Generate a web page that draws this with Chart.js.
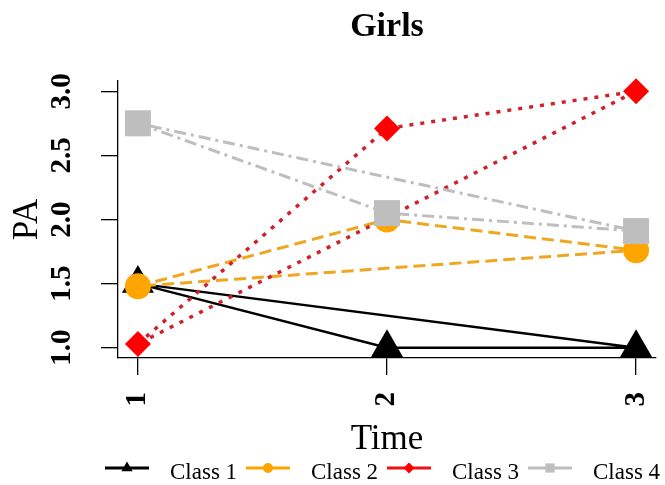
<!DOCTYPE html>
<html>
<head>
<meta charset="utf-8">
<script src="https://cdn.jsdelivr.net/npm/chart.js@4.4.1/dist/chart.umd.min.js"></script>
<style>
  html, body { margin: 0; padding: 0; background: #ffffff; }
  canvas { display: block; }
</style>
</head>
<body>
<canvas id="chart" width="665" height="485"></canvas>
<script>
// Mean PA per latent class at each measurement occasion (girls)
const timePoints = [1, 2, 3];
const classNames = ['Class 1', 'Class 2', 'Class 3', 'Class 4'];
const class1 = [1.50, 1.00, 1.00];
const class2 = [1.48, 2.00, 1.76];
const class3 = [1.03, 2.71, 3.00];
const class4 = [2.75, 2.05, 1.91];
const yTicks = [1.0, 1.5, 2.0, 2.5, 3.0];
const xTicks = [1, 2, 3];

const SERIF = "'Liberation Serif', 'Times New Roman', serif";

// Per-class drawing styles
const styles = [
  { line: '#000000', marker: '#000000', dash: [],            width: 2.5, shape: 'triangle', r: 18.5, keyR: 6.5 },
  { line: '#EFA620', marker: '#FFA500', dash: [12, 6],       width: 3,   shape: 'circle',   r: 13,   keyR: 5 },
  { line: '#D0202A', marker: '#FF0000', dash: [4, 7],        width: 3.5, shape: 'rectRot',  r: 13,   keyR: 5.5 },
  { line: '#BEBEBE', marker: '#BEBEBE', dash: [12, 5, 3, 5], width: 3,   shape: 'rect',     r: 18.4, keyR: 6.5 }
];
const keyLineColors = ['#000000', '#FFA500', '#EE1111', '#BEBEBE'];

const seriesValues = [class1, class2, class3, class4];

// Each class is drawn as a closed triangle: 1 -> 2 -> 3 -> back to 1
const datasets = seriesValues.map((vals, k) => {
  const pts = timePoints.map((t, i) => ({ x: t, y: vals[i] }));
  const st = styles[k];
  return {
    label: classNames[k],
    data: pts.concat([pts[0]]),
    borderColor: st.line,
    borderWidth: st.width,
    borderDash: st.dash,
    backgroundColor: st.marker,
    pointStyle: st.shape,
    pointRadius: [st.r, st.r, st.r, 0],
    pointBackgroundColor: st.marker,
    pointBorderWidth: 0,
    pointHoverRadius: 0,
    tension: 0,
    fill: false,
    clip: false,
    order: seriesValues.length - k
  };
});

// Legend row underneath the axis title
const bottomKey = {
  id: 'bottomKey',
  afterDraw(chart) {
    const ctx = chart.ctx;
    const y = 468;
    const start = 105, stride = 141, segLen = 44, textGap = 65;
    ctx.save();
    chart.data.datasets.forEach((ds, k) => {
      const x0 = start + k * stride;
      ctx.setLineDash([]);
      ctx.strokeStyle = keyLineColors[k];
      ctx.lineWidth = 3;
      ctx.beginPath();
      ctx.moveTo(x0, y);
      ctx.lineTo(x0 + segLen, y);
      ctx.stroke();
      ctx.fillStyle = styles[k].marker;
      Chart.helpers.drawPoint(ctx, {
        pointStyle: styles[k].shape,
        radius: styles[k].keyR,
        rotation: 0,
        borderWidth: 0
      }, x0 + segLen / 2, y);
      ctx.fillStyle = '#000000';
      ctx.font = '23px ' + SERIF;
      ctx.textAlign = 'left';
      ctx.textBaseline = 'alphabetic';
      ctx.fillText(ds.label, x0 + textGap, 479);
    });
    ctx.restore();
  }
};

new Chart(document.getElementById('chart'), {
  type: 'line',
  data: { datasets },
  plugins: [bottomKey],
  options: {
    responsive: false,
    animation: false,
    devicePixelRatio: 1,
    events: [],
    layout: { autoPadding: false, padding: { top: 0, right: 9, bottom: 0, left: 0 } },
    plugins: {
      legend: { display: false },
      tooltip: { enabled: false },
      title: {
        display: true,
        text: 'Girls',
        fullSize: false,
        color: '#000000',
        font: { family: SERIF, size: 34, weight: 'bold' },
        padding: { top: 7, bottom: 33.2 }
      }
    },
    scales: {
      x: {
        type: 'linear',
        min: 0.92,
        max: 3.08,
        afterBuildTicks: (scale) => { scale.ticks = xTicks.map(v => ({ value: v })); },
        afterFit: (scale) => {
          scale.height = 127;
          scale.paddingLeft = 0;
          scale.paddingRight = 0;
        },
        ticks: {
          color: '#000000',
          font: { family: SERIF, size: 29, weight: 'bold' },
          minRotation: 90,
          maxRotation: 90,
          padding: 17,
          callback: (v) => String(v)
        },
        grid: {
          drawOnChartArea: false,
          drawTicks: true,
          tickLength: 17,
          color: '#000000',
          lineWidth: 1.3
        },
        border: { display: true, color: '#000000', width: 1.3 },
        title: {
          display: true,
          text: 'Time',
          color: '#000000',
          font: { family: SERIF, size: 35 },
          padding: { top: 0, bottom: 24 }
        }
      },
      y: {
        type: 'linear',
        min: 0.92,
        max: 3.08,
        afterBuildTicks: (scale) => { scale.ticks = yTicks.map(v => ({ value: v })); },
        afterFit: (scale) => {
          scale.width = 118;
          scale.paddingTop = 0;
          scale.paddingBottom = 0;
        },
        ticks: {
          color: '#000000',
          font: { family: SERIF, size: 29, weight: 'bold' },
          minRotation: 90,
          maxRotation: 90,
          crossAlign: 'center',
          padding: 20,
          callback: (v) => Number(v).toFixed(1)
        },
        grid: {
          drawOnChartArea: false,
          drawTicks: true,
          tickLength: 17,
          color: '#000000',
          lineWidth: 1.3
        },
        border: { display: true, color: '#000000', width: 1.3 },
        title: {
          display: true,
          text: 'PA',
          color: '#000000',
          font: { family: SERIF, size: 35 },
          padding: { top: 7, bottom: 0 }
        }
      }
    }
  }
});
</script>
</body>
</html>
